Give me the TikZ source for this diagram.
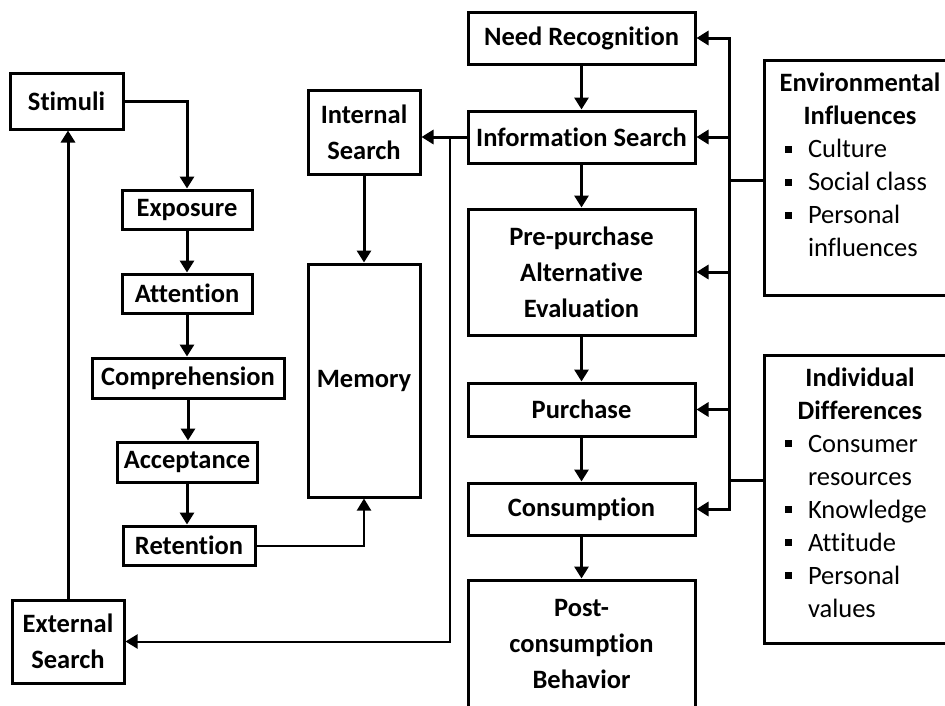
\documentclass[tikz,border=0pt]{standalone}
\usepackage{fontspec}
\setmainfont{Carlito}[Ligatures=NoCommon]
\usetikzlibrary{arrows.meta}

\newcommand{\bul}{\rule[5pt]{7pt}{7pt}}

\begin{document}
\begin{tikzpicture}[x=1pt,y=-1pt,
  box/.style={draw,line width=3pt,inner sep=0pt,align=center,
    font=\bfseries\fontsize{26.5}{36}\selectfont},
  panel/.style={box,font=\bfseries\fontsize{26.5}{33}\selectfont},
  arr/.style={line width=3pt,-{Triangle[length=12pt,width=14pt]}},
  thinarr/.style={line width=2pt,-{Triangle[length=12pt,width=14pt]}}]

\useasboundingbox (0,0) rectangle (945,705);
\clip (0,0) rectangle (945,705);

% perception chain
\node[box,minimum width=113pt,minimum height=56pt] (stimuli) at (66.5,101) {Stimuli};
\node[box,minimum width=130pt,minimum height=39pt] (exposure) at (187,209.5) {Exposure};
\node[box,minimum width=130pt,minimum height=39pt] (attention) at (187,293.5) {Attention};
\node[box,minimum width=192pt,minimum height=40pt] (comprehension) at (188,378) {Comprehension};
\node[box,minimum width=140pt,minimum height=40pt] (acceptance) at (187,462) {Acceptance};
\node[box,minimum width=132pt,minimum height=39pt] (retention) at (189,545.5) {Retention};
\node[box,minimum width=112pt,minimum height=83pt] (external) at (68,641.5) {External\\Search};

\node[box,minimum width=112pt,minimum height=84pt] (internal) at (364,132) {Internal\\Search};
\node[box,minimum width=112pt,minimum height=233pt] (memory) at (364,380.5) {Memory};

% decision process
\node[box,minimum width=227pt,minimum height=52pt] (need) at (581.5,38) {Need Recognition};
\node[box,minimum width=227pt,minimum height=52pt] (info) at (581.5,137) {Information Search};
\node[box,minimum width=227pt,minimum height=126pt] (pre) at (581.5,272) {Pre-purchase\\Alternative\\Evaluation};
\node[box,minimum width=227pt,minimum height=53pt] (purchase) at (581.5,409.5) {Purchase};
\node[box,minimum width=227pt,minimum height=52pt] (consumption) at (581.5,509) {Consumption};
\node[box,minimum width=227pt,minimum height=127pt] (post) at (581.5,643.5) {Post-\\consumption\\Behavior};

% influences
\node[panel,minimum width=192pt,minimum height=235pt] (env) at (860,177.5) {%
  \begin{tabular}{@{\hspace{21pt}}l@{\hspace{16pt}}p{148pt}@{}}
  \multicolumn{2}{@{}c@{}}{Environmental}\\
  \multicolumn{2}{@{}c@{}}{Influences}\\
  \bul & \mdseries Culture\\
  \bul & \mdseries Social class\\
  \bul & \mdseries Personal\\
       & \mdseries influences\\[20pt]
  \end{tabular}};
\node[panel,minimum width=192pt,minimum height=288pt] (ind) at (860,499) {%
  \begin{tabular}{@{\hspace{21pt}}l@{\hspace{16pt}}p{148pt}@{}}
  \multicolumn{2}{@{}c@{}}{Individual}\\
  \multicolumn{2}{@{}c@{}}{Differences}\\
  \bul & \mdseries Consumer\\
       & \mdseries resources\\
  \bul & \mdseries Knowledge\\
  \bul & \mdseries Attitude\\
  \bul & \mdseries Personal\\
       & \mdseries values\\[8pt]
  \end{tabular}};

\coordinate (bus) at (729,0);
\coordinate (split) at (450,137);

\draw[arr] (stimuli.east) -| (exposure.north);
\draw[arr] (exposure.south) -- (exposure.south |- attention.north);
\draw[arr] (attention.south) -- (attention.south |- comprehension.north);
\draw[arr] (comprehension.south) -- (comprehension.south |- acceptance.north);
\draw[arr] (acceptance.south) -- (acceptance.south |- retention.north);
\draw[thinarr] (retention.east) -| (memory.south);
\draw[arr] (internal) -- (memory);
\draw[arr] (external.north) -- (external.north |- stimuli.south);

\draw[arr] (info.west) -- (info.west -| internal.east);
\draw[thinarr] (split) |- (external.east);

\draw[arr] (need) -- (info);
\draw[arr] (info) -- (pre);
\draw[arr] (pre) -- (purchase);
\draw[arr] (purchase) -- (consumption);
\draw[arr] (consumption) -- (post);

\draw[line width=3pt,line cap=rect] (bus |- need.east) -- (bus |- consumption.east);
\foreach \n in {need,info,pre,purchase,consumption}
  \draw[arr] (bus |- \n.east) -- (\n.east);
\draw[line width=3pt] (env.west |- 0,180) -- (bus |- 0,180);
\draw[line width=3pt] (ind.west |- 0,480) -- (bus |- 0,480);

\end{tikzpicture}
\end{document}
